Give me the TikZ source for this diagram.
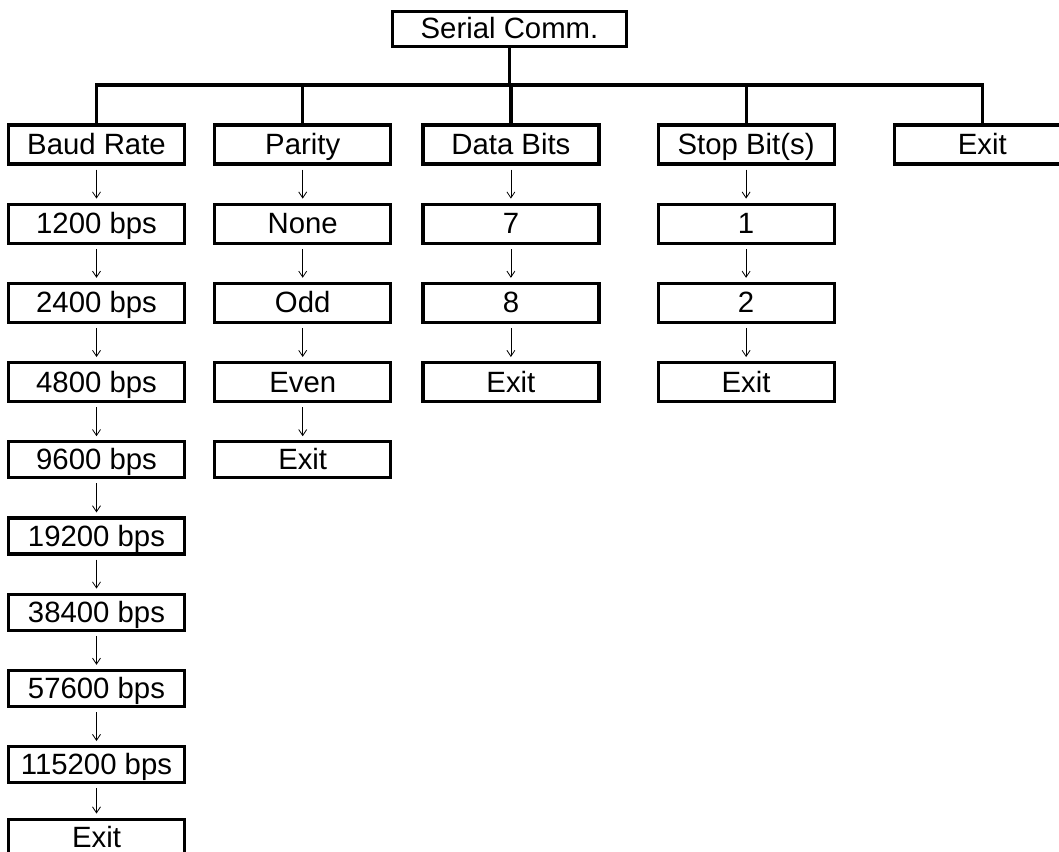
\documentclass[tikz,border=0pt]{standalone}
\usepackage{fontspec}
\setmainfont{Liberation Sans}
\usetikzlibrary{arrows.meta,positioning}

\begin{document}
\begin{tikzpicture}[x=0.75pt, y=-0.75pt, node distance=27.75pt,
  font=\fontsize{22}{26}\selectfont, >={Straight Barb[length=4.5pt,width=6pt]},
  box/.style={draw, line width=2.4pt, minimum width=132pt, minimum height=29.25pt,
    inner sep=0pt, text height=15pt, text depth=0pt},
  sbox/.style={box, minimum height=27pt},
  bus/.style={line width=2.4pt},
  nxt/.style={->, line width=0.6pt, shorten <=3pt, shorten >=3pt}]
\useasboundingbox (0,0) rectangle (1059,852);
\node[box, minimum width=175.5pt, minimum height=26.25pt] (serial) at (509.5,29) {Serial Comm.};
\node[box] (baud) at (96.5,144.5) {Baud Rate};
\node[box, right=20.25pt of baud] (parity) {Parity};
\node[box, right=21.75pt of parity] (data) {Data Bits};
\node[box, right=42pt of data] (stop) {Stop Bit(s)};
\node[box, right=42.75pt of stop] (exit) {Exit};
\coordinate (bus) at (0,85);
% baud rate
\node[box, below=of baud] (b1200) {1200 bps};
\node[box, below=of b1200] (b2400) {2400 bps};
\node[box, below=of b2400] (b4800) {4800 bps};
\node[sbox, below=of b4800] (b9600) {9600 bps};
\node[sbox, below=of b9600] (b19200) {19200 bps};
\node[sbox, below=of b19200] (b38400) {38400 bps};
\node[sbox, below=of b38400] (b57600) {57600 bps};
\node[sbox, below=of b57600] (b115200) {115200 bps};
\node[sbox, below=25pt of b115200] (bexit) {Exit};
% parity
\node[box, below=of parity] (pnone) {None};
\node[box, below=of pnone] (podd) {Odd};
\node[box, below=of podd] (peven) {Even};
\node[sbox, below=of peven] (pexit) {Exit};
% data bits
\node[box, below=of data] (d7) {7};
\node[box, below=of d7] (d8) {8};
\node[box, below=of d8] (dexit) {Exit};
% stop bits
\node[box, below=of stop] (s1) {1};
\node[box, below=of s1] (s2) {2};
\node[box, below=of s2] (sexit) {Exit};

\draw[bus] (serial.south) -- (serial.south |- bus);
\draw[bus] (baud.north) -- (baud.north |- bus) -- (exit.north |- bus) -- (exit.north);
\draw[bus] (parity.north) -- (parity.north |- bus);
\draw[bus] (data.north) -- (data.north |- bus);
\draw[bus] (stop.north) -- (stop.north |- bus);

\draw[nxt] (baud) -- (b1200);
\draw[nxt] (b1200) -- (b2400);
\draw[nxt] (b2400) -- (b4800);
\draw[nxt] (b4800) -- (b9600);
\draw[nxt] (b9600) -- (b19200);
\draw[nxt] (b19200) -- (b38400);
\draw[nxt] (b38400) -- (b57600);
\draw[nxt] (b57600) -- (b115200);
\draw[nxt] (b115200) -- (bexit);
\draw[nxt] (parity) -- (pnone);
\draw[nxt] (pnone) -- (podd);
\draw[nxt] (podd) -- (peven);
\draw[nxt] (peven) -- (pexit);
\draw[nxt] (data) -- (d7);
\draw[nxt] (d7) -- (d8);
\draw[nxt] (d8) -- (dexit);
\draw[nxt] (stop) -- (s1);
\draw[nxt] (s1) -- (s2);
\draw[nxt] (s2) -- (sexit);
\end{tikzpicture}
\end{document}
